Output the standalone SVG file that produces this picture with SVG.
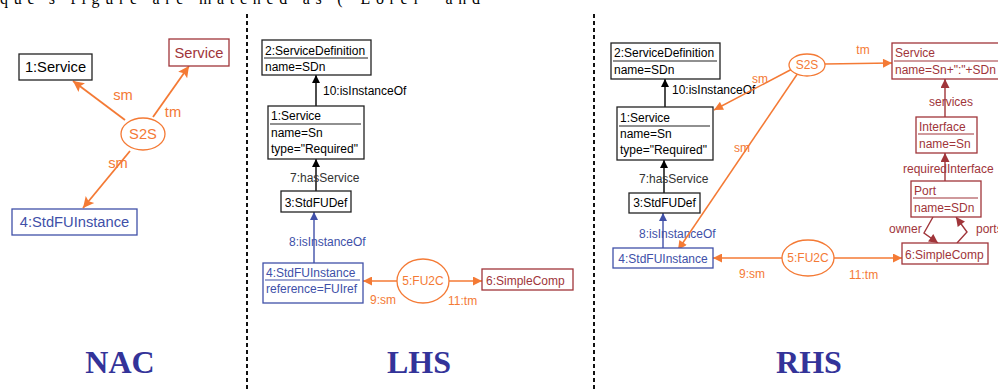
<svg xmlns="http://www.w3.org/2000/svg" width="998" height="389" viewBox="0 0 998 389">
<style>
text{font-family:"Liberation Sans",Arial,sans-serif;font-size:12px}
.nac{font-size:14.7px}
.k{fill:#000}
.o{fill:#f47a35}
.r{fill:#a0353a}
.b{fill:#4050a8}
.g{fill:#333}
.bk{fill:#fff;stroke:#222;stroke-width:1.3}
.br{fill:#fff;stroke:#a0353a;stroke-width:1.3}
.bb{fill:#fff;stroke:#4050a8;stroke-width:1.3}
.el{fill:#fff;stroke:#f47a35;stroke-width:1.3}
.ul{stroke-width:1.2}
.ck{stroke:#000;stroke-width:1.4;fill:none;marker-end:url(#mk)}
.cb{stroke:#4050a8;stroke-width:1.4;fill:none;marker-end:url(#mb)}
.cr{stroke:#a0353a;stroke-width:1.4;fill:none;marker-end:url(#mr)}
.co{stroke:#f47a35;stroke-width:1.5;fill:none;marker-end:url(#mo)}
.coN{stroke:#f47a35;stroke-width:1.8;fill:none;marker-end:url(#mN)}
.sep{stroke:#111;stroke-width:2;stroke-dasharray:4 3}
.ttl{font-family:"Liberation Serif","Times New Roman",serif;font-weight:bold;font-size:32px;fill:#333399}
</style>
<defs>
<marker id="mk" viewBox="0 0 10 10" refX="10" refY="5" markerWidth="9" markerHeight="8" markerUnits="userSpaceOnUse" orient="auto"><path d="M0,0L10,5L0,10z" fill="#000"/></marker>
<marker id="mb" viewBox="0 0 10 10" refX="10" refY="5" markerWidth="9" markerHeight="8" markerUnits="userSpaceOnUse" orient="auto"><path d="M0,0L10,5L0,10z" fill="#4050a8"/></marker>
<marker id="mr" viewBox="0 0 10 10" refX="10" refY="5" markerWidth="10" markerHeight="9" markerUnits="userSpaceOnUse" orient="auto"><path d="M0,0L10,5L0,10z" fill="#a0353a"/></marker>
<marker id="mo" viewBox="0 0 10 10" refX="10" refY="5" markerWidth="10" markerHeight="9" markerUnits="userSpaceOnUse" orient="auto"><path d="M0,0L10,5L0,10z" fill="#f47a35"/></marker>
<marker id="mN" viewBox="0 0 10 10" refX="10" refY="5" markerWidth="13" markerHeight="11" markerUnits="userSpaceOnUse" orient="auto"><path d="M0,0L10,5L0,10L2,5z" fill="#f47a35"/></marker>
</defs>
<rect width="998" height="389" fill="#fff"/>
<text x="0" y="4" style="font-family:'Liberation Serif',serif;font-size:16px" textLength="480">que's  figure  are  matched  as  ("Lorel"  and</text>
<line class="sep" x1="247" y1="14" x2="247" y2="389"/>
<line class="sep" x1="594" y1="14" x2="594" y2="389"/>

<g id="connectors">
<line class="coN" x1="125" y1="120" x2="73" y2="81"/>
<line class="coN" x1="153" y1="117" x2="189" y2="66"/>
<line class="coN" x1="130" y1="151" x2="83" y2="208"/>
<text class="nac o" x="123" y="100" text-anchor="middle">sm</text>
<text class="nac o" x="173" y="117" text-anchor="middle">tm</text>
<text class="nac o" x="118" y="168" text-anchor="middle">sm</text>
<line class="ck" x1="316" y1="106" x2="316" y2="75"/>
<text class="k" x="323" y="95">10:isInstanceOf</text>
<line class="ck" x1="316" y1="191" x2="316" y2="159"/>
<text class="g" x="290" y="182">7:hasService</text>
<line class="cb" x1="314" y1="263" x2="314" y2="212"/>
<text class="b" x="289" y="246">8:isInstanceOf</text>
<line class="co" x1="397" y1="281" x2="363" y2="281"/>
<text class="o" x="370" y="304">9:sm</text>
<line class="co" x1="449" y1="281" x2="482" y2="281"/>
<text class="o" x="448" y="305">11:tm</text>
<line class="ck" x1="665" y1="107" x2="665" y2="79"/>
<text class="k" x="672" y="94">10:isInstanceOf</text>
<line class="ck" x1="664" y1="193" x2="664" y2="160"/>
<text class="g" x="639" y="183">7:hasService</text>
<line class="cb" x1="663" y1="248" x2="663" y2="213"/>
<text class="b" x="639" y="238">8:isInstanceOf</text>
<line class="co" x1="782" y1="258" x2="713" y2="258"/>
<text class="o" x="739" y="278">9:sm</text>
<line class="co" x1="834" y1="258" x2="902" y2="258"/>
<text class="o" x="849" y="279">11:tm</text>
<line class="co" x1="825" y1="64" x2="892" y2="63"/>
<text class="o" x="863" y="54" text-anchor="middle">tm</text>
<line class="co" x1="794" y1="68" x2="714" y2="110"/>
<text class="o" x="752" y="83">sm</text>
<line class="co" x1="798" y1="73" x2="678" y2="250"/>
<text class="o" x="734" y="152">sm</text>
<line class="cr" x1="945" y1="117" x2="945" y2="79"/>
<text class="r" x="929" y="106">services</text>
<line class="cr" x1="945" y1="181" x2="945" y2="153"/>
<text class="r" x="903" y="173">requiredInterface</text>
<polyline class="cr" points="933,217 924,233 938,243"/>
<text class="r" x="889" y="233">owner</text>
<polyline class="cr" points="957,243 967,232 956,217"/>
<text class="r" x="976" y="233">ports</text>
</g>

<g id="nac-service1"><rect class="bk" x="19" y="54" width="73" height="26"/><text class="nac k" x="55.5" y="72" text-anchor="middle">1:Service</text></g>
<g id="nac-service"><rect class="br" x="169" y="39" width="60" height="27"/><text class="nac r" x="199" y="58" text-anchor="middle">Service</text></g>
<g id="nac-s2s"><ellipse class="el" cx="143" cy="134" rx="22" ry="16"/><text class="nac o" x="143" y="139" text-anchor="middle">S2S</text></g>
<g id="nac-stdfu"><rect class="bb" x="12" y="209" width="125" height="26"/><text class="nac b" x="74.5" y="227" text-anchor="middle">4:StdFUInstance</text></g>

<g id="lhs-servicedef"><rect class="bk" x="262" y="40" width="109" height="35"/><line class="ul" x1="264" y1="58" x2="368" y2="58" stroke="#222"/><text class="k" x="265" y="55">2:ServiceDefinition</text><text class="k" x="265" y="71">name=SDn</text></g>
<g id="lhs-service"><rect class="bk" x="268" y="106" width="96" height="53"/><line class="ul" x1="270" y1="124" x2="361" y2="124" stroke="#222"/><text class="k" x="271" y="120">1:Service</text><text class="k" x="271" y="137">name=Sn</text><text class="k" x="271" y="153">type="Required"</text></g>
<g id="lhs-stdfudef"><rect class="bk" x="281" y="191" width="70" height="21"/><text class="k" x="316" y="207" text-anchor="middle">3:StdFUDef</text></g>
<g id="lhs-stdfuinst"><rect class="bb" x="263" y="263" width="100" height="40"/><line class="ul" x1="265" y1="280" x2="360" y2="280" stroke="#4050a8"/><text class="b" x="266" y="277">4:StdFUInstance</text><text class="b" x="266" y="293">reference=FUIref</text></g>
<g id="lhs-fu2c"><ellipse class="el" cx="423" cy="281" rx="26" ry="22"/><text class="o" x="423" y="285" text-anchor="middle">5:FU2C</text></g>
<g id="lhs-simplecomp"><rect class="br" x="482" y="269" width="91" height="21"/><text class="r" x="486" y="285">6:SimpleComp</text></g>

<g id="rhs-servicedef"><rect class="bk" x="611" y="43" width="109" height="36"/><line class="ul" x1="613" y1="61" x2="717" y2="61" stroke="#222"/><text class="k" x="614" y="57">2:ServiceDefinition</text><text class="k" x="614" y="74">name=SDn</text></g>
<g id="rhs-service"><rect class="bk" x="617" y="107" width="96" height="53"/><line class="ul" x1="619" y1="126" x2="710" y2="126" stroke="#222"/><text class="k" x="620" y="122">1:Service</text><text class="k" x="620" y="138">name=Sn</text><text class="k" x="620" y="154">type="Required"</text></g>
<g id="rhs-stdfudef"><rect class="bk" x="629" y="193" width="71" height="20"/><text class="k" x="664.5" y="207" text-anchor="middle">3:StdFUDef</text></g>
<g id="rhs-stdfuinst"><rect class="bb" x="613" y="248" width="100" height="20"/><text class="b" x="663" y="263" text-anchor="middle">4:StdFUInstance</text></g>
<g id="rhs-fu2c"><ellipse class="el" cx="808" cy="258" rx="26" ry="18"/><text class="o" x="808" y="262" text-anchor="middle">5:FU2C</text></g>
<g id="rhs-simplecomp"><rect class="br" x="902" y="243" width="86" height="21"/><text class="r" x="905" y="259">6:SimpleComp</text></g>
<g id="rhs-s2s"><ellipse class="el" cx="807" cy="65" rx="18" ry="11"/><text class="o" x="807" y="69" text-anchor="middle">S2S</text></g>
<g id="rhs-newservice"><rect class="br" x="892" y="43" width="120" height="36"/><line class="ul" x1="894" y1="61" x2="1000" y2="61" stroke="#a0353a"/><text class="r" x="895" y="57">Service</text><text class="r" x="895" y="74">name=Sn+":"+SDn</text></g>
<g id="rhs-interface"><rect class="br" x="916" y="117" width="61" height="36"/><line class="ul" x1="918" y1="134" x2="974" y2="134" stroke="#a0353a"/><text class="r" x="919" y="131">Interface</text><text class="r" x="919" y="148">name=Sn</text></g>
<g id="rhs-port"><rect class="br" x="911" y="181" width="70" height="36"/><line class="ul" x1="913" y1="198" x2="978" y2="198" stroke="#a0353a"/><text class="r" x="914" y="195">Port</text><text class="r" x="914" y="212">name=SDn</text></g>

<text class="ttl" x="120" y="373" text-anchor="middle">NAC</text>
<text class="ttl" x="419" y="373" text-anchor="middle">LHS</text>
<text class="ttl" x="809" y="373" text-anchor="middle">RHS</text>
</svg>
